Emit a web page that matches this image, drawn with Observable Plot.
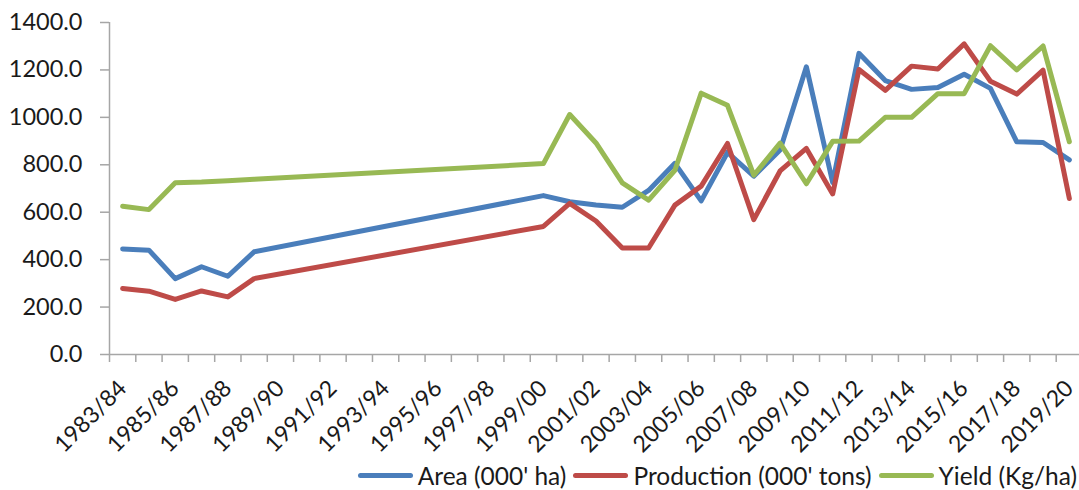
<!DOCTYPE html>
<html>
<head>
<meta charset="utf-8">
<script src="https://cdn.jsdelivr.net/npm/d3@7"></script>
<script src="https://cdn.jsdelivr.net/npm/@observablehq/plot@0.6"></script>
<style>
  html, body { margin: 0; padding: 0; background: #fff; }
  body { width: 1079px; height: 490px; overflow: hidden; font-family: Lato, "Noto Sans", sans-serif; color: #1a1a1a; }
  #legend { display: flex; justify-content: flex-end; align-items: center; height: 30px; padding-right: 2px; font-size: 24.5px; }
  .item { display: flex; align-items: center; margin-left: 7px; }
  .swatch { width: 55px; height: 5px; border-radius: 3px; margin-right: 5px; }
</style>
</head>
<body>
<div id="chart"></div>
<div id="legend"></div>
<script>
// Every season on the category axis
const categories = [
  "1983/84","1984/85","1985/86","1986/87","1987/88","1988/89","1989/90","1990/91","1991/92",
  "1992/93","1993/94","1994/95","1995/96","1996/97","1997/98","1998/99","1999/00","2000/01",
  "2001/02","2002/03","2003/04","2004/05","2005/06","2006/07","2007/08","2008/09","2009/10",
  "2010/11","2011/12","2012/13","2013/14","2014/15","2015/16","2016/17","2017/18","2018/19","2019/20"
];

// Seasons with recorded values
const seasons = [
  "1983/84","1984/85","1985/86","1986/87","1987/88","1988/89",
  "1999/00","2000/01","2001/02","2002/03","2003/04","2004/05","2005/06","2006/07","2007/08",
  "2008/09","2009/10","2010/11","2011/12","2012/13","2013/14","2014/15","2015/16","2016/17",
  "2017/18","2018/19","2019/20"
];
const area = [445, 440, 320, 370, 330, 433,
  670, 644, 630, 621, 692, 806, 648, 852, 752, 862, 1213, 725, 1270, 1155, 1118, 1126, 1182, 1122, 897, 894, 821];
const production = [278, 267, 232, 268, 243, 320,
  540, 637, 563, 449, 449, 630, 710, 890, 569, 774, 869, 677, 1202, 1114, 1216, 1204, 1310, 1152, 1098, 1199, 658];
const yieldKgHa = [625, 611, 724, 727, 733, 739,
  805, 1012, 892, 724, 651, 777, 1102, 1051, 756, 891, 720, 899, 900, 1000, 1000, 1100, 1100, 1302, 1200, 1301, 897];

const seriesNames = ["Area (000' ha)", "Production (000' tons)", "Yield (Kg/ha)"];
const seriesColors = ["#4A7EBB", "#BE4B48", "#98B954"];

const xTickLabels = [
  "1983/84","1985/86","1987/88","1989/90","1991/92","1993/94","1995/96","1997/98","1999/00",
  "2001/02","2003/04","2005/06","2007/08","2009/10","2011/12","2013/14","2015/16","2017/18","2019/20"
];
const yTicks = [0, 200, 400, 600, 800, 1000, 1200, 1400];

const axisGray = "#A6A6A6";
const textColor = "#1a1a1a";

// Long-format rows: one per series and season, positioned by category index
const seriesValues = [area, production, yieldKgHa];
const rows = seriesNames.flatMap((name, s) =>
  seasons.map((season, k) => ({series: name, i: categories.indexOf(season), v: seriesValues[s][k]}))
);

// Category boundaries carry the small tick marks; labels sit on every other category
const boundaries = d3.range(categories.length + 1).map(k => k - 0.5);
const labelIndex = xTickLabels.map(l => categories.indexOf(l));

const chart = Plot.plot({
  width: 1079,
  height: 460,
  marginTop: 22,
  marginLeft: 109,
  marginRight: -3,
  marginBottom: 106,
  x: {type: "linear", domain: [-0.5, categories.length - 0.5], axis: null},
  y: {domain: [0, 1400], axis: null},
  color: {domain: seriesNames, range: seriesColors},
  style: {fontFamily: "Lato, 'Noto Sans', sans-serif", fontSize: "23px", color: textColor, background: "#fff", overflow: "visible"},
  marks: [
    Plot.ruleY([0], {stroke: axisGray, strokeWidth: 1.5}),
    Plot.ruleX([-0.5], {stroke: axisGray, strokeWidth: 1.5}),
    Plot.axisY(yTicks, {
      tickSize: 9, tickPadding: 18, tickFormat: d => d.toFixed(1),
      stroke: axisGray, strokeWidth: 1.5, fill: textColor, fontSize: 23.5, label: null
    }),
    Plot.axisX(boundaries, {
      tickSize: 8, tickFormat: () => "", stroke: axisGray, strokeWidth: 1.5, label: null
    }),
    Plot.axisX(labelIndex, {
      tickSize: 0, tickPadding: 30, tickRotate: -45, tickFormat: i => categories[i],
      fill: textColor, fontSize: 23, label: null
    }),
    Plot.line(rows, {x: "i", y: "v", z: "series", stroke: "series", strokeWidth: 5, strokeLinejoin: "round", strokeLinecap: "round"})
  ]
});
document.getElementById("chart").appendChild(chart);

// Legend row under the chart
const legend = document.getElementById("legend");
seriesNames.forEach((name, s) => {
  const item = document.createElement("div");
  item.className = "item";
  const sw = document.createElement("span");
  sw.className = "swatch";
  sw.style.background = seriesColors[s];
  const label = document.createElement("span");
  label.textContent = name;
  item.append(sw, label);
  legend.appendChild(item);
});
</script>
</body>
</html>
